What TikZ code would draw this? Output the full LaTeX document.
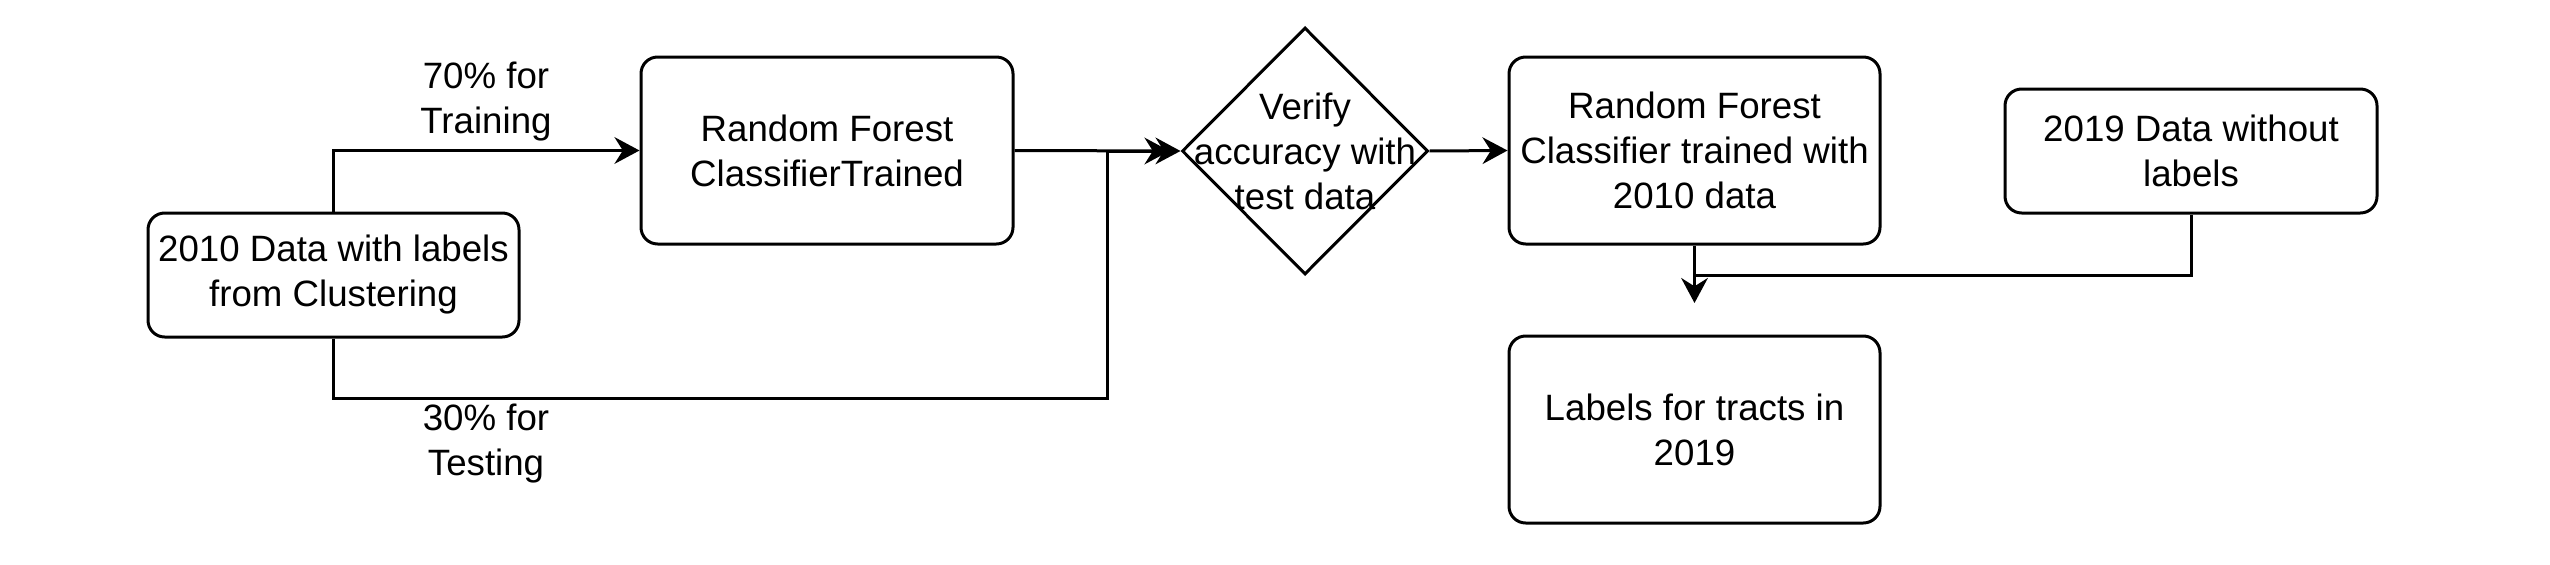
\documentclass[tikz,border=0pt]{standalone}
\usepackage{fontspec}
\setmainfont{Liberation Sans}
\usetikzlibrary{shapes.geometric,arrows.meta}
\begin{document}
\begin{tikzpicture}[x=0.3pt,y=-0.3pt,
  txt/.style={align=center, inner sep=0pt, font=\fontsize{11}{13.5}\selectfont},
  box/.style={txt, draw, line width=0.9pt, rounded corners=5pt},
  conn/.style={line width=0.9pt},
  arr/.style={conn, -{Stealth[length=7.5pt,width=8pt,inset=2.5pt]}}]
\useasboundingbox (0,0) rectangle (2550,564);
\node[box, minimum width=111.3pt, minimum height=37.2pt] (b1) at (333.5,275) {2010 Data with labels\\from Clustering};
\node[box, minimum width=111.6pt, minimum height=56.1pt] (b2) at (827,150.5) {Random Forest\\ClassifierTrained};
\node[draw, line width=0.9pt, diamond, inner sep=0pt, minimum width=73.8pt, minimum height=74.1pt] (d) at (1305,151) {};
\node[txt] (dt) at (d.center) {Verify\\accuracy with\\test data};
\node[box, minimum width=111.3pt, minimum height=56.1pt] (b4) at (1694.5,150.5) {Random Forest\\Classifier trained with\\2010 data};
\node[box, minimum width=111.6pt, minimum height=37.2pt] (b5) at (2191,151) {2019 Data without\\labels};
\node[box, minimum width=111.3pt, minimum height=56.1pt] (b6) at (1694.5,429.5) {Labels for tracts in\\2019};
\node[txt] (l70) at (486,102) {70\% for\\Training};
\node[txt] (l30) at (486,444) {30\% for\\Testing};
\coordinate (kb) at (1107,398);
\coordinate (k) at (1107,151);
\coordinate (m) at (1694.5,275);
\coordinate (j) at (1694.5,303);
\draw[arr] (b1.north) |- (b2.west);
\draw[arr] (b2.east) -- (d.west);
\draw[arr, shorten >=3.3pt] (b1.south) |- (kb) -- (k) -- (d.west);
\draw[arr] (d.east) -- (b4.west);
\draw[arr] (b4.south) -- (j);
\draw[conn] (b5.south) |- (m);
\end{tikzpicture}
\end{document}
